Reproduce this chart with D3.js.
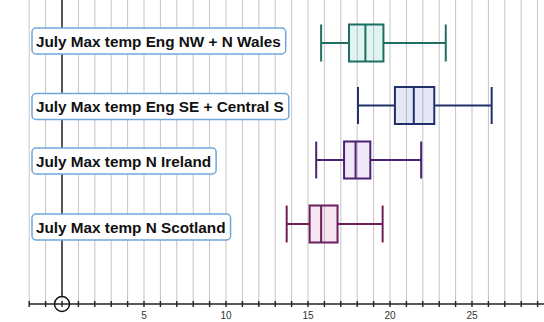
<!DOCTYPE html>
<html>
<head>
<meta charset="utf-8">
<script src="https://cdn.jsdelivr.net/npm/d3@7"></script>
<style>
  body { margin: 0; background: #fff; }
  svg { display: block; font-family: "Liberation Sans", Arial, sans-serif; }
</style>
</head>
<body>
<div id="canvas"></div>
<script>
// July max temperature summaries per region (deg C)
const regions = [
    "July Max temp Eng NW + N Wales",
    "July Max temp Eng SE + Central S",
    "July Max temp N Ireland",
    "July Max temp N Scotland"
];
const mins    = [15.8, 18.05, 15.5, 13.7];
const q1s     = [17.5, 20.3, 17.2, 15.1];
const medians = [18.5, 21.45, 17.9, 15.8];
const q3s     = [19.6, 22.7, 18.8, 16.8];
const maxs    = [23.4, 26.2, 21.9, 19.55];

const strokes = ["#1f6e64", "#22306a", "#4a2272", "#6b1f5c"];
const fills   = ["#2fb3a6", "#4a68c4", "#9a5fd0", "#cc4fa6"];

const tickLabels = [5, 10, 15, 20, 25];

const width = 544, height = 322;
const axisY = 304;

const svg = d3.select("#canvas")
    .append("svg")
    .attr("width", width)
    .attr("height", height);

// x scale: 0 sits at 62px, 16.4px per degree
const x = d3.scaleLinear()
    .domain([0, 25])
    .range([62, 472]);

// row centres and label centres
const rowY = [43, 105.5, 160, 224];
const labelY = [41, 106.5, 161, 227];
const boxH = 37;

// Vertical grid lines on every integer
const gridVals = d3.range(-2, 30);
svg.append("g")
    .selectAll("line")
    .data(gridVals)
    .join("line")
    .attr("x1", d => x(d))
    .attr("x2", d => x(d))
    .attr("y1", 0)
    .attr("y2", axisY)
    .attr("stroke", "#c4c4c4")
    .attr("stroke-width", 1);

// vertical axis through the origin
svg.append("line")
    .attr("x1", x(0)).attr("x2", x(0))
    .attr("y1", 0).attr("y2", axisY - 7)
    .attr("stroke", "#333")
    .attr("stroke-width", 1.6);

// Draw X axis
const axis = svg.append("g")
    .attr("transform", `translate(0,${axisY})`);
axis.append("line")
    .attr("x1", x(-2)).attr("x2", width)
    .attr("stroke", "#222")
    .attr("stroke-width", 1.6);
axis.selectAll(".tick")
    .data(gridVals)
    .join("line")
    .attr("x1", d => x(d)).attr("x2", d => x(d))
    .attr("y1", -3).attr("y2", 3)
    .attr("stroke", "#222")
    .attr("stroke-width", 1.4);
axis.selectAll("text")
    .data(tickLabels)
    .join("text")
    .attr("x", d => x(d))
    .attr("y", 15)
    .attr("text-anchor", "middle")
    .attr("font-size", 10)
    .attr("fill", "#333")
    .text(d => d);

svg.append("circle")
    .attr("cx", x(0))
    .attr("cy", axisY)
    .attr("r", 7.5)
    .attr("fill", "none")
    .attr("stroke", "#111")
    .attr("stroke-width", 1.5);

// Draw box plots
regions.forEach((name, i) => {
    const g = svg.append("g");
    const cy = rowY[i];
    const top = cy - boxH / 2, bot = cy + boxH / 2;
    const col = strokes[i];

    // whiskers
    g.append("line")
        .attr("x1", x(mins[i])).attr("x2", x(q1s[i]))
        .attr("y1", cy).attr("y2", cy)
        .attr("stroke", col).attr("stroke-width", 2);
    g.append("line")
        .attr("x1", x(q3s[i])).attr("x2", x(maxs[i]))
        .attr("y1", cy).attr("y2", cy)
        .attr("stroke", col).attr("stroke-width", 2);
    [mins[i], maxs[i]].forEach(v => {
        g.append("line")
            .attr("x1", x(v)).attr("x2", x(v))
            .attr("y1", top).attr("y2", bot)
            .attr("stroke", col).attr("stroke-width", 2);
    });

    // box
    g.append("rect")
        .attr("x", x(q1s[i]))
        .attr("y", top)
        .attr("width", x(q3s[i]) - x(q1s[i]))
        .attr("height", boxH)
        .attr("fill", fills[i])
        .attr("fill-opacity", 0.15)
        .attr("stroke", col)
        .attr("stroke-width", 2);
    g.append("line")
        .attr("x1", x(medians[i])).attr("x2", x(medians[i]))
        .attr("y1", top).attr("y2", bot)
        .attr("stroke", col).attr("stroke-width", 2);
});

// Region labels in rounded boxes
regions.forEach((name, i) => {
    const g = svg.append("g");
    const rect = g.append("rect");
    const t = g.append("text")
        .attr("x", 36)
        .attr("y", labelY[i] + 5.5)
        .attr("font-size", 15.3)
        .attr("font-weight", "bold")
        .attr("fill", "#111")
        .text(name);
    const w = t.node().getComputedTextLength();
    rect.attr("x", 32)
        .attr("y", labelY[i] - 13)
        .attr("width", w + 9)
        .attr("height", 26)
        .attr("rx", 4)
        .attr("fill", "#fff")
        .attr("stroke", "#6fa6dc")
        .attr("stroke-width", 1.5);
});
</script>
</body>
</html>
